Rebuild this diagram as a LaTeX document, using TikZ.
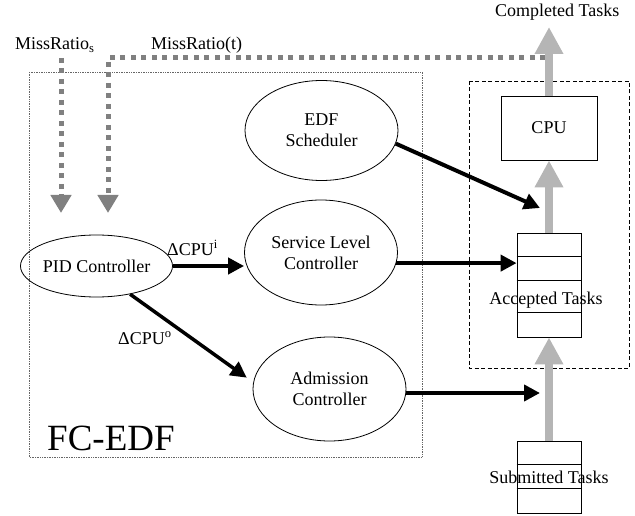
\documentclass[tikz,border=0pt]{standalone}
\usepackage{fontspec}
\setmainfont{Liberation Serif}
\usetikzlibrary{arrows.meta,shapes.geometric}

\begin{document}
\begin{tikzpicture}[
  x=1pt,y=-1pt,
  every node/.style={font=\fontsize{18}{21}\selectfont,inner sep=0pt},
  unit/.style={ellipse,draw,line width=0.8pt,align=center,
    minimum width=153pt,minimum height=100pt},
  queue/.style={draw,line width=0.8pt,minimum width=64pt},
  ctrl/.style={-{Triangle[length=16pt,width=16pt]},line width=4pt},
  flow/.style={-{Triangle[length=27pt,width=27pt]},draw=black!29,
    line width=8pt},
  feedback/.style={-{Triangle[length=18pt,width=20pt]},draw=black!50,
    line width=5pt,dash pattern=on 5pt off 5.5pt}
]
  \useasboundingbox (0,0) rectangle (635,516);

  % The two frames.
  \draw[densely dotted,draw=black!60,line width=0.7pt] (29,72) rectangle (422,457);
  \draw[dash pattern=on 4pt off 2.5pt,line width=0.8pt] (469,81) rectangle (629,368);
  \node[anchor=base west,font=\fontsize{37}{40}\selectfont] (fcedf) at (47,450) {FC-EDF};

  % Controllers inside FC-EDF.
  \node[unit,minimum width=121pt,minimum height=62pt] (pid) at (96.5,266) {PID Controller};
  \node[unit] (edf) at (321.5,130.5) {EDF\\Scheduler};
  \node[unit,minimum height=105pt] (slc) at (321,252.5) {Service Level\\Controller};
  \node[unit,minimum height=104pt] (adm) at (329.5,389) {Admission\\Controller};

  % Task path on the right.
  \node[draw,line width=0.8pt,minimum width=96pt,minimum height=64pt] (cpu) at (549,128) {CPU};
  \node[queue,minimum height=104pt] (acc) at (549,285) {};
  \foreach \dy in {24,48,80}
    \draw[line width=0.8pt] (acc.north west) ++(0,\dy) -- ++(64,0);
  \node[anchor=base] (acclbl) at (546,304) {Accepted Tasks};
  \node[queue,minimum height=72pt] (sub) at (549,477) {};
  \foreach \dy in {24,48}
    \draw[line width=0.8pt] (sub.north west) ++(0,\dy) -- ++(64,0);
  \node[anchor=base] (sublbl) at (549,483) {Submitted Tasks};
  \node[anchor=base west] (done) at (495,17) {Completed Tasks};
  \coordinate (out) at (549,27);

  \draw[flow] (sub.north) -- (acc.south);
  \draw[flow] (acc.north) -- (cpu.south);
  \draw[flow] (cpu.north) -- (out);

  % Feedback of the miss ratio.
  \node[anchor=base west] (setlbl) at (15,50) {MissRatio\textsubscript{s}};
  \node[anchor=base west] (fblbl) at (151,50) {MissRatio(t)};
  \coordinate (tap) at (545,58);
  \coordinate (setpt) at (61,58);
  \coordinate (fbs) at (61,213);
  \coordinate (fbt) at (108,213);
  \draw[feedback] (setpt) -- (fbs);
  \draw[feedback] (tap) -| (fbt);

  % Control actions.
  \coordinate (edftip) at (540,208);
  \coordinate (admtip) at (540,393);
  \draw[ctrl] (pid.east) -- (pid.east -| slc.west);
  \node[anchor=base west] (dci) at (167,255) {ΔCPU\textsuperscript{i}};
  \draw[ctrl,line width=3.5pt,shorten >=8pt] (pid.-40) -- (adm.175);
  \node[anchor=base west] (dco) at (118,344) {ΔCPU\textsuperscript{o}};
  \draw[ctrl] (edf.-10) -- (edftip);
  \draw[ctrl] (slc.-8) -- (slc.-8 -| acc.west);
  \draw[ctrl] (adm.east |- admtip) -- (admtip);
\end{tikzpicture}
\end{document}
